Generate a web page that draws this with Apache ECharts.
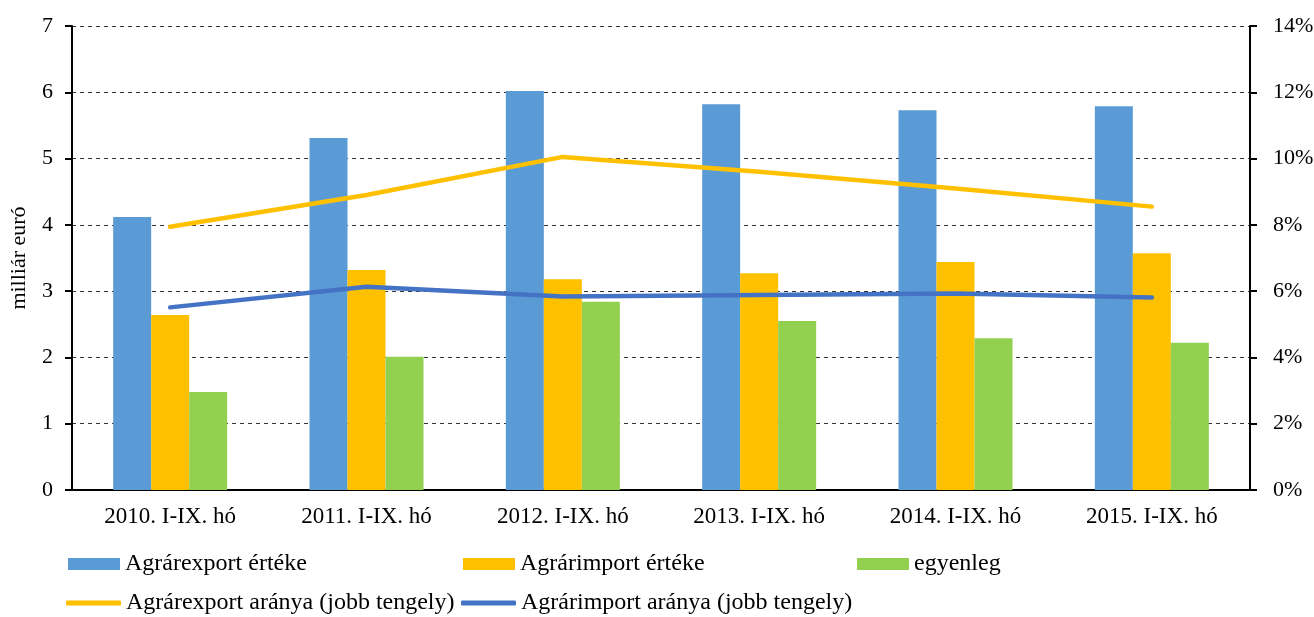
<!DOCTYPE html>
<html>
<head>
<meta charset="utf-8">
<script src="https://cdn.jsdelivr.net/npm/echarts@6/dist/echarts.min.js"></script>
<style>
  html, body { margin: 0; padding: 0; background: #fff; }
  #chart { width: 1314px; height: 617px; }
</style>
</head>
<body>
<div id="chart"></div>
<script>
// data
const categories = ['2010. I-IX. hó', '2011. I-IX. hó', '2012. I-IX. hó', '2013. I-IX. hó', '2014. I-IX. hó', '2015. I-IX. hó'];
const exportValue = [4.12, 5.31, 6.02, 5.82, 5.73, 5.79];   // milliárd euró
const importValue = [2.64, 3.32, 3.18, 3.27, 3.44, 3.57];
const balance = [1.48, 2.01, 2.84, 2.55, 2.29, 2.22];
const exportShare = [7.94, 8.9, 10.05, 9.6, 9.1, 8.55];     // % (right axis)
const importShare = [5.51, 6.13, 5.84, 5.88, 5.93, 5.81];

const FONT = 'Liberation Serif';
const chart = echarts.init(document.getElementById('chart'));

// one legend per item so they sit in the same columns as the original
function legendAt(name, left, top, icon, w, h) {
  return {
    data: [name], left: left, top: top, padding: 0,
    icon: icon, itemWidth: w, itemHeight: h, itemGap: 0,
    textStyle: { fontFamily: FONT, fontSize: 24, color: '#000' }
  };
}

chart.setOption({
  animation: false,
  textStyle: { fontFamily: FONT },
  grid: { left: 72, right: 64, top: 26, bottom: 127, outerBoundsMode: 'none' },
  legend: [
    legendAt('Agrárexport értéke', 68, 552, 'rect', 52, 12),
    legendAt('Agrárimport értéke', 463, 552, 'rect', 52, 12),
    legendAt('egyenleg', 857, 552, 'rect', 52, 12),
    legendAt('Agrárexport aránya (jobb tengely)', 66, 591, 'roundRect', 55, 5),
    legendAt('Agrárimport aránya (jobb tengely)', 461, 591, 'roundRect', 55, 5)
  ],
  xAxis: {
    type: 'category',
    data: categories,
    boundaryGap: true,
    axisLine: { lineStyle: { color: '#000', width: 2 } },
    axisTick: { length: 6, lineStyle: { color: '#000', width: 2 } },
    axisLabel: { interval: 0, margin: 15, color: '#000', fontSize: 23, fontFamily: FONT }
  },
  yAxis: [
    {
      type: 'value', min: 0, max: 7, interval: 1,
      name: 'milliár euró', nameLocation: 'middle', nameGap: 42, nameRotate: 90,
      nameTextStyle: { color: '#000', fontSize: 22, fontFamily: FONT },
      axisLine: { show: true, lineStyle: { color: '#000', width: 2 } },
      axisTick: { show: true, length: 7, lineStyle: { color: '#000', width: 2 } },
      axisLabel: { margin: 19, color: '#000', fontSize: 22, fontFamily: FONT },
      splitLine: { lineStyle: { color: '#333', type: [4, 4], width: 1 } }
    },
    {
      type: 'value', min: 0, max: 14, interval: 2, position: 'right',
      axisLine: { show: true, lineStyle: { color: '#000', width: 2 } },
      axisTick: { show: true, length: 7, lineStyle: { color: '#000', width: 2 } },
      axisLabel: { margin: 23, color: '#000', fontSize: 22, fontFamily: FONT, formatter: '{value}%' },
      splitLine: { show: false }
    }
  ],
  series: [
    {
      name: 'Agrárexport értéke', type: 'bar', data: exportValue,
      barWidth: 38, barGap: '0%', itemStyle: { color: '#5B9BD5' }
    },
    {
      name: 'Agrárimport értéke', type: 'bar', data: importValue,
      barWidth: 38, barGap: '0%', itemStyle: { color: '#FFC000' }
    },
    {
      name: 'egyenleg', type: 'bar', data: balance,
      barWidth: 38, barGap: '0%', itemStyle: { color: '#92D050' }
    },
    {
      name: 'Agrárexport aránya (jobb tengely)', type: 'line', yAxisIndex: 1, data: exportShare,
      symbol: 'none', itemStyle: { color: '#FFC000' },
      lineStyle: { color: '#FFC000', width: 4.5, cap: 'round', join: 'round' }
    },
    {
      name: 'Agrárimport aránya (jobb tengely)', type: 'line', yAxisIndex: 1, data: importShare,
      symbol: 'none', itemStyle: { color: '#4472C4' },
      lineStyle: { color: '#4472C4', width: 4.5, cap: 'round', join: 'round' }
    }
  ]
});
</script>
</body>
</html>
